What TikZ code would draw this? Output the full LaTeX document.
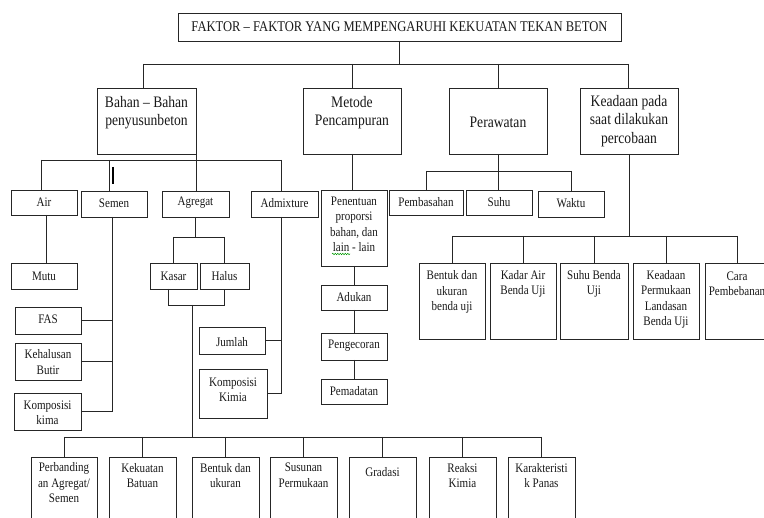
\documentclass[tikz,border=0pt]{standalone}
\usepackage{fontspec}
\setmainfont{Liberation Serif}[FakeStretch=0.85]
\usetikzlibrary{decorations.pathmorphing}
\newcommand\bx[8][fs]{%
  \node[box, minimum width={#5-#3}, minimum height={#6-#4}] (#2) at (#3,#4) {};
  \node[lbl,#1] (#2t) at ({(#3+#5)/2},#7) {#8};}
\begin{document}
\begin{tikzpicture}[x=1pt,y=-1pt,
  box/.style={draw=black!85, line width=0.8pt, anchor=north west, inner sep=0pt, outer sep=0pt},
  ln/.style={draw=black!85, line width=0.8pt},
  lbl/.style={inner sep=0pt, align=center, text=black!90},
  fs/.style={font=\fontsize{13}{15.5}\selectfont},
  fm/.style={font=\fontsize{16}{18.5}\selectfont},
  ft/.style={font=\fontsize{14.8}{17}\selectfont}]
\useasboundingbox (0,0) rectangle (764,518);
\fill[white] (0,0) rectangle (764,518);
% level 0 and 1
\bx[ft]{title}{178}{13}{621}{41}{27}{FAKTOR – FAKTOR YANG MEMPENGARUHI KEKUATAN TEKAN BETON}
\bx[fm]{bahan}{97}{88}{196}{154}{112.5}{Bahan – Bahan\\penyusunbeton}
\bx[fm]{metode}{303}{88}{401}{154}{112.5}{Metode\\Pencampuran}
\bx[fm]{rawat}{449}{88}{547}{154}{122}{Perawatan}
\bx[fm]{keadaan}{580}{88}{678}{154}{121}{Keadaan pada\\saat dilakukan\\percobaan}
% bahan branch
\bx{air}{11}{190}{77}{215}{202}{Air}
\bx{semen}{81}{191}{147}{217}{203}{Semen}
\bx{agregat}{162}{191}{229}{217}{203}{Agregat}
\bx{admix}{251}{191}{318}{217}{203}{Admixture}
\bx{mutu}{11}{263}{77}{289}{276}{Mutu}
\bx{kasar}{150}{263}{197}{289}{276}{Kasar}
\bx{halus}{200}{263}{249}{289}{276}{Halus}
\bx{fas}{15}{307}{81}{334}{319}{FAS}
\bx{kehalusan}{15}{343}{81}{380}{362}{Kehalusan\\Butir}
\bx{kompkima}{14}{393}{81}{430}{413}{Komposisi\\kima}
\bx{jumlah}{199}{327}{265}{354}{342}{Jumlah}
\bx{kompkimia}{199}{369}{267}{418}{390}{Komposisi\\Kimia}
% metode branch
\bx{penentuan}{321}{190}{387}{266}{224.5}{Penentuan\\proporsi\\bahan, dan\\lain - lain}
\bx{adukan}{321}{285}{387}{310}{297}{Adukan}
\bx{pengecoran}{321}{333}{387}{360}{346}{Pengecoran}
\bx{pemadatan}{321}{379}{387}{404}{391}{Pemadatan}
% perawatan branch
\bx{pembasahan}{389}{190}{463}{215}{202}{Pembasahan}
\bx{suhu}{466}{190}{532}{215}{202}{Suhu}
\bx{waktu}{538}{191}{604}{217}{203}{Waktu}
% keadaan branch
\bx{bentukuji}{419}{263}{485}{339}{292}{Bentuk dan\\ukuran\\benda uji}
\bx{kadar}{490}{263}{556}{339}{284}{Kadar Air\\Benda Uji}
\bx{suhuuji}{560}{263}{628}{339}{284}{Suhu Benda\\Uji}
\bx{permukaan}{633}{263}{699}{339}{299.5}{Keadaan\\Permukaan\\Landasan\\Benda Uji}
\bx{cara}{705}{263}{769}{339}{284}{Cara\\Pembebanan}
% bottom row (agregat properties)
\bx{perbanding}{31}{457}{97}{530}{483}{Perbanding\\an Agregat/\\Semen}
\bx{kekuatan}{109}{457}{176}{530}{475.5}{Kekuatan\\Batuan}
\bx{bentuk}{192}{457}{259}{530}{475.5}{Bentuk dan\\ukuran}
\bx{susunan}{270}{457}{337}{530}{475.5}{Susunan\\Permukaan}
\bx{gradasi}{349}{457}{416}{530}{472}{Gradasi}
\bx{reaksi}{429}{457}{496}{530}{475.5}{Reaksi\\Kimia}
\bx{karak}{508}{457}{575}{530}{475.5}{Karakteristi\\k Panas}
% spell-check underline
\draw[green!60!black, line width=0.5pt, decorate, decoration={snake, amplitude=0.7pt, segment length=2.5pt}] (332,254) -- (350,254);
% top bus
\coordinate (tb1) at (143,64);
\coordinate (tb2) at (628,64);
\draw[ln] (title.south) -- (title.south |- tb1);
\draw[ln] (tb1) -- (tb2);
\draw[ln] (tb1) -- (tb1 |- bahan.north);
\draw[ln] (metode.north |- tb1) -- (metode.north);
\draw[ln] (rawat.north |- tb1) -- (rawat.north);
\draw[ln] (tb2) -- (tb2 |- keadaan.north);
% bahan sub bus
\coordinate (bb1) at (41,160);
\coordinate (bb2) at (281,160);
\draw[ln] (bb1) -- (bb2);
\draw[ln] (bb1) -- (bb1 |- air.north);
\draw[ln] ([xshift=-5pt]semen.north |- bb1) -- ([xshift=-5pt]semen.north);
\draw[ln] (bahan.south east) -- (bahan.south east |- agregat.north);
\draw[ln] (bb2) -- (bb2 |- admix.north);
\draw[line width=1.6pt, black] (113,167) -- (113,184);
% air
\draw[ln] ([xshift=2pt]air.south) -- ([xshift=2pt]mutu.north);
% semen spine
\coordinate (sp) at (112,410);
\draw[ln] (sp |- semen.south) -- (sp |- kompkima.east) -- (kompkima.east);
\draw[ln] (fas.east) -- (fas.east -| sp);
\draw[ln] (kehalusan.east) -- (kehalusan.east -| sp);
% agregat
\coordinate (ag) at (197,237);
\draw[ln] (agregat.south) -- (agregat.south |- ag);
\draw[ln] (kasar.north |- ag) -- (halus.north |- ag);
\draw[ln] (kasar.north |- ag) -- (kasar.north);
\draw[ln] (halus.north |- ag) -- (halus.north);
\coordinate (kh) at (0,305);
\draw[ln] ([xshift=-5.5pt]kasar.south) -- ([xshift=-5.5pt]kasar.south |- kh) -- (halus.south |- kh) -- (halus.south);
\coordinate (agd) at (192,305);
\coordinate (bot) at (0,437);
\draw[ln] (agd) -- (agd |- bot);
\draw[ln] (perbanding.north |- bot) -- (karak.north |- bot);
\foreach \n in {perbanding,kekuatan,bentuk,susunan,gradasi,reaksi,karak}
  \draw[ln] (\n.north |- bot) -- (\n.north);
% admixture
\coordinate (ad) at (281,393);
\draw[ln] (ad |- admix.south) -- (ad) -- (kompkimia.east |- ad);
\draw[ln] (jumlah.east) -- (jumlah.east -| ad);
% metode chain
\draw[ln] (metode.south) -- (metode.south |- penentuan.north);
\draw[ln] (penentuan.south) -- (adukan.north);
\draw[ln] (adukan.south) -- (pengecoran.north);
\draw[ln] (pengecoran.south) -- (pemadatan.north);
% perawatan
\coordinate (rb) at (0,171);
\draw[ln] (rawat.south) -- (rawat.south |- suhu.north);
\draw[ln] (pembasahan.north |- rb) -- (waktu.north |- rb);
\draw[ln] (pembasahan.north |- rb) -- (pembasahan.north);
\draw[ln] (waktu.north |- rb) -- (waktu.north);
% keadaan
\coordinate (kb) at (0,236);
\draw[ln] (keadaan.south) -- (keadaan.south |- kb);
\draw[ln] (bentukuji.north |- kb) -- (cara.north |- kb);
\foreach \n in {bentukuji,kadar,suhuuji,permukaan,cara}
  \draw[ln] (\n.north |- kb) -- (\n.north);
\end{tikzpicture}
\end{document}
